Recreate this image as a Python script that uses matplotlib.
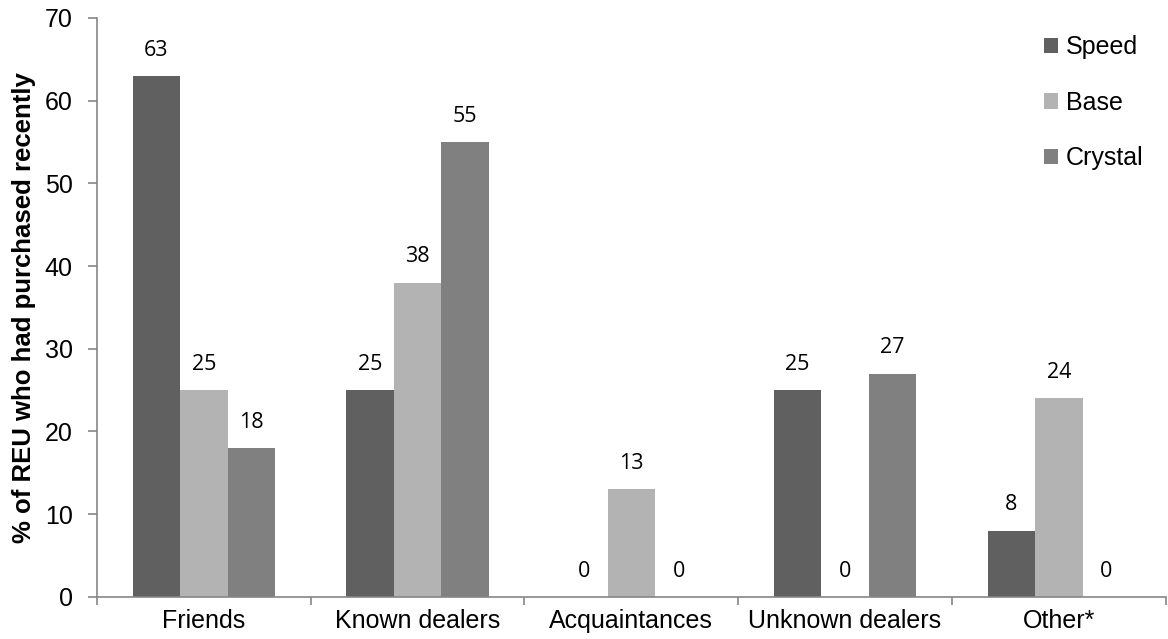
import numpy as np
import matplotlib
matplotlib.use("Agg")
import matplotlib.pyplot as plt

categories = ["Friends", "Known dealers", "Acquaintances", "Unknown dealers", "Other*"]
series_names = ["Speed", "Base", "Crystal"]
speed = [63, 25, 0, 25, 8]
base = [25, 38, 13, 0, 24]
crystal = [18, 55, 0, 27, 0]

COLORS = ["#606060", "#b3b3b3", "#808080"]
AXIS = "#868686"
FONT = "Liberation Sans"

fig = plt.figure(figsize=(11.68, 6.39), dpi=100)
ax = fig.add_axes([0.083, 0.066, 0.915, 0.906])

x = np.arange(len(categories))
width = 1 / 4.5
for i, (name, vals, col) in enumerate(zip(series_names, [speed, base, crystal], COLORS)):
    pos = x + (i - 1) * width
    ax.bar(pos, vals, width, color=col, label=name)
    for xp, v in zip(pos, vals):
        ax.annotate(str(v), (xp, v), xytext=(0, 11), textcoords="offset points",
                    ha="center", va="bottom", fontsize=15.5, family="Open Sans", color="black")

ax.set_xlim(-0.5, len(categories) - 0.5)
ax.set_ylim(0, 70)
ax.set_yticks(range(0, 71, 10))
ax.set_xticks(x)
ax.set_xticklabels(categories, family=FONT, fontsize=18)
ax.set_xticks(np.arange(-0.5, len(categories)), minor=True)
ax.tick_params(axis="x", which="major", length=0, pad=9)
ax.tick_params(axis="x", which="minor", length=6, color=AXIS, width=1.2)
ax.tick_params(axis="y", length=6.5, color=AXIS, width=1.2, labelsize=18, pad=11)
for lab in ax.get_yticklabels():
    lab.set_family(FONT)

for s in ["top", "right"]:
    ax.spines[s].set_visible(False)
for s in ["left", "bottom"]:
    ax.spines[s].set_color(AXIS)
    ax.spines[s].set_linewidth(1.2)

ax.set_ylabel("% of REU who had purchased recently", fontsize=18.5, fontweight="bold",
              family=FONT, labelpad=6)

ax.legend(loc="upper left", bbox_to_anchor=(1044 / 1168, 1 - 35 / 639),
          bbox_transform=fig.transFigure, frameon=False, borderpad=0, borderaxespad=0,
          prop={"family": FONT, "size": 18},
          handlelength=0.56, handleheight=0.56, handletextpad=0.3, labelspacing=1.27)

fig.savefig("out.png", dpi=100)
